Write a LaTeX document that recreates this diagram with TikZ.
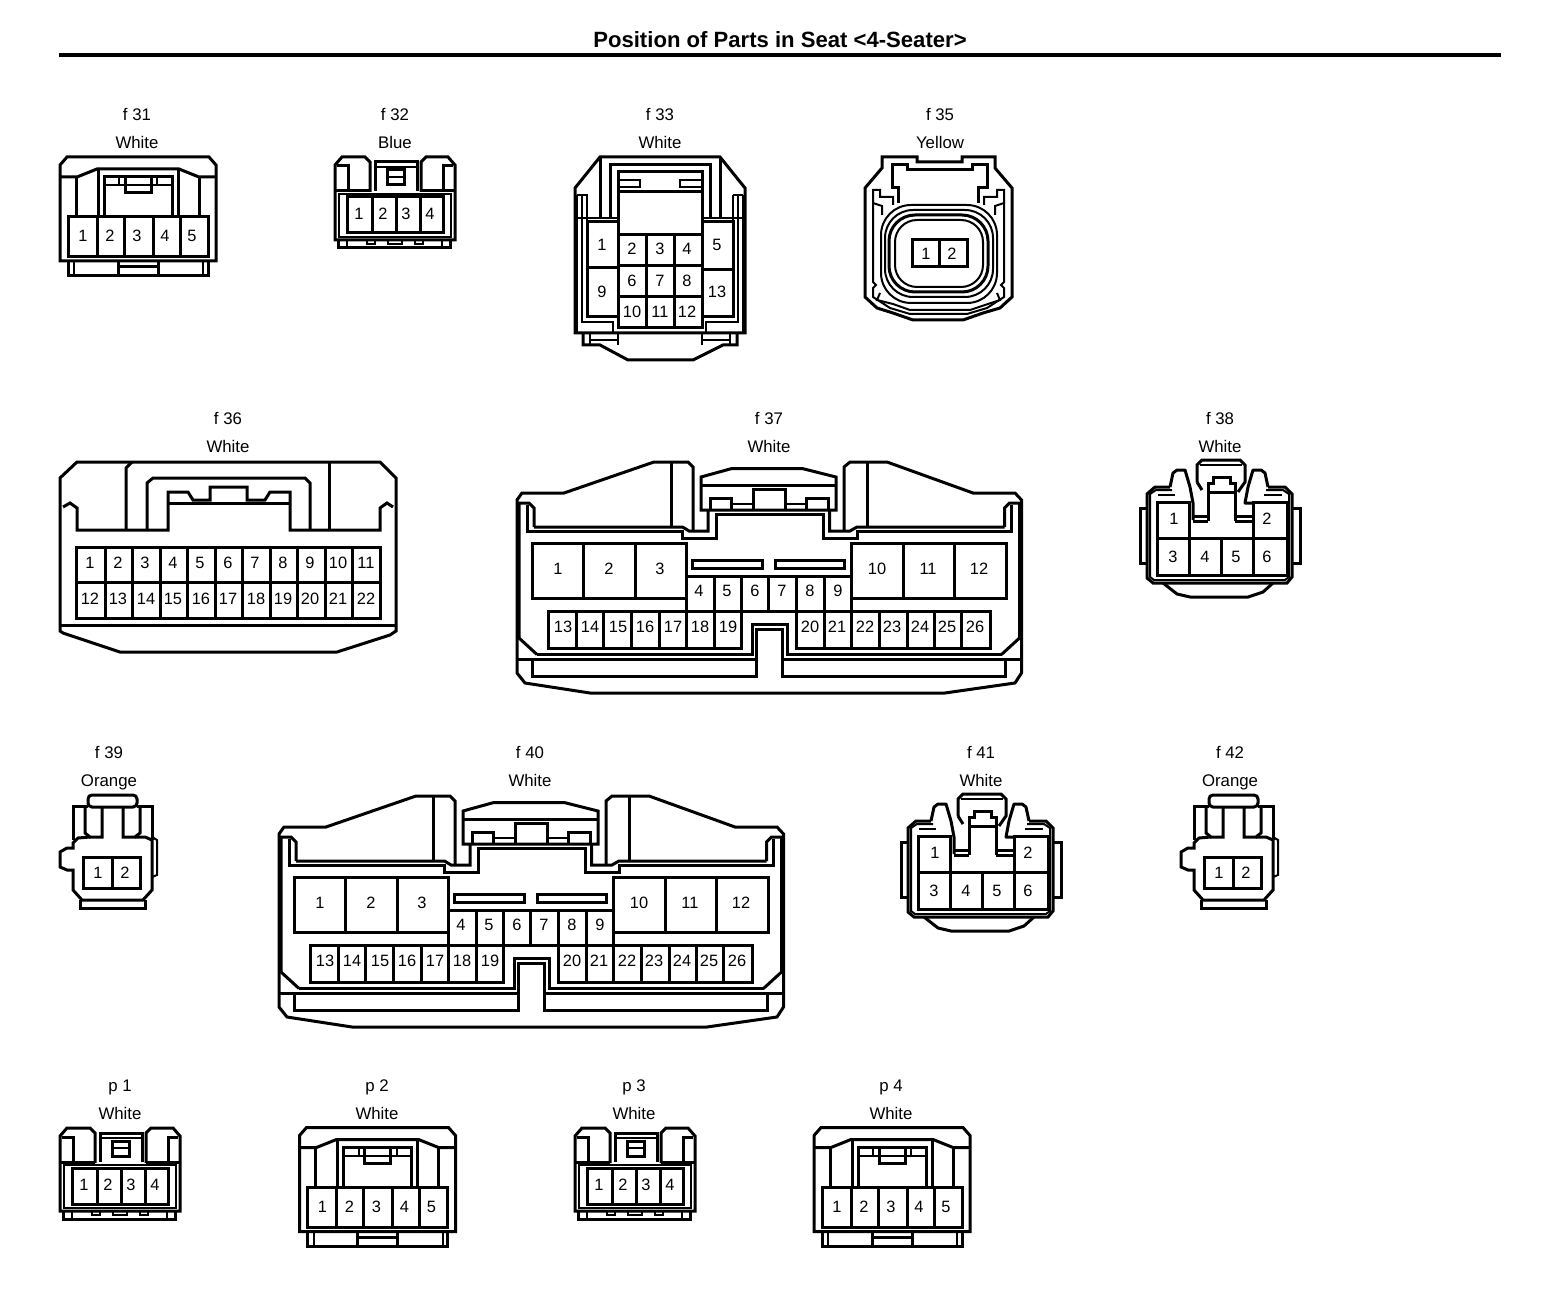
\documentclass[tikz,border=0pt]{standalone}
\usepackage{fontspec}
\setmainfont{Liberation Sans}
\tikzset{
  con/.style={line width=1.5pt},
  fin/.style={line width=1pt},
  pinno/.style={inner sep=0pt,font=\fontsize{8.2}{10}\selectfont},
  lbl/.style={inner sep=0pt,anchor=base,font=\fontsize{8.4}{10}\selectfont}
}

% five pin housing (f31, p2, p4)
\newcommand{\connFive}{
  \draw[con] (60,165) -- (67,157) -- (209,157) -- (216,165) -- (216,261) -- (60,261) -- cycle;
  \draw[con] (60,177) -- (77,177) -- (97,169) -- (179,169) -- (199,177) -- (216,177);
  \draw[con] (76,177) -- (76,216);
  \draw[con] (199,177) -- (199,216);
  \draw[con] (98,169) -- (98,216);
  \draw[con] (178,169) -- (178,216);
  \draw[con] (104,216) -- (104,177) -- (172,177) -- (172,216);
  \draw[fin] (104,185) -- (172,185);
  \draw[fin] (119,177) -- (119,185);
  \draw[fin] (157,177) -- (157,185);
  \draw[con] (125,177) -- (125,193) -- (151,193) -- (151,177);
  \draw[con] (68,217) rectangle (208,257);
  \foreach \x in {97,124,153,180} \draw[con] (\x,217) -- (\x,257);
  \draw[con] (68,261) -- (68,276) -- (208,276) -- (208,261);
  \draw[fin] (74,261) -- (74,276);
  \draw[fin] (203,261) -- (203,276);
  \draw[con] (118,261) -- (118,276);
  \draw[con] (158,261) -- (158,276);
  \draw[con] (118,267) -- (158,267);
  \foreach \n/\x in {1/83,2/110,3/137,4/165,5/192}
    \node[pinno] (pin\n) at (\x,236) {\n};
}

% four pin housing (f32, p1, p3)
\newcommand{\connFour}{
  \draw[con] (370,192) -- (370,162) -- (365,157) -- (342,157) -- (335,165) -- (335,240) -- (455,240) -- (455,165) -- (448,157) -- (426,157) -- (421,162) -- (421,192);
  \draw[con] (348,190) -- (348,166) -- (337,166);
  \draw[con] (443,190) -- (443,166) -- (453,166);
  \draw[con] (370,191) -- (335,191);
  \draw[con] (421,191) -- (455,191);
  \draw[con] (375,191) -- (375,162) -- (417,162) -- (417,191);
  \draw[fin] (375,167) -- (417,167);
  \draw[con] (387,170) rectangle (404,185);
  \draw[fin] (387,177) -- (404,177);
  \draw[fin] (339,194) rectangle (451,237);
  \draw[con] (347,197) rectangle (443,233);
  \foreach \x in {372,396,420} \draw[con] (\x,197) -- (\x,233);
  \draw[con] (338,240) -- (338,248) -- (450,248) -- (450,240);
  \draw[fin] (347,240) -- (347,248);
  \draw[fin] (442,240) -- (442,248);
  \draw[fin] (367,240) rectangle (375,244);
  \draw[fin] (388,240) rectangle (402,244);
  \draw[fin] (415,240) rectangle (423,244);
  \foreach \n/\x in {1/359,2/383,3/406,4/430}
    \node[pinno] (pin\n) at (\x,214) {\n};
}

% two pin housing (f39, f42)
\newcommand{\connTwo}{
  \draw[con,rounded corners=2pt] (88,795) rectangle (137,807);
  \draw[con] (73,840) -- (73,806) -- (88,806);
  \draw[con] (85,807) -- (85,833) -- (90,837) -- (102,837) -- (102,807);
  \draw[con] (123,807) -- (123,837) -- (135,837) -- (140,833) -- (140,807);
  \draw[con] (137,806) -- (152,806) -- (152,840);
  \draw[con] (90,837) -- (78,838) -- (73,843) -- (73,848) -- (67,848) -- (60,852) -- (60,867) -- (67,870) -- (73,870) -- (73,890) -- (82,900) -- (143,900) -- (152,890) -- (152,840) -- (145,837) -- (135,837);
  \draw[fin] (152,837) -- (157,840) -- (157,875) -- (152,877);
  \draw[con] (80,900) -- (80,908) -- (145,908) -- (145,900);
  \draw[con] (83,857) rectangle (140,888);
  \draw[con] (112,857) -- (112,888);
  \node[pinno] (pin1) at (98,873) {1};
  \node[pinno] (pin2) at (125,873) {2};
}

% six pin housing (f38, f41)
\newcommand{\connSix}{
  \draw[con] (1170,487) -- (1155,487) -- (1147,494) -- (1147,578) -- (1153,583) -- (1287,583) -- (1292,577) -- (1292,494) -- (1285,487) -- (1268,487);
  \draw[con] (1163,583) -- (1177,594) -- (1190,597) -- (1248,597) -- (1263,592) -- (1273,583);
  \draw[con] (1147,508) -- (1140,508) -- (1140,563) -- (1147,563);
  \draw[con] (1292,508) -- (1300,508) -- (1300,563) -- (1292,563);
  \draw[fin] (1150,494) -- (1156,490) -- (1172,490);
  \draw[fin] (1150,494) -- (1150,577) -- (1154,580) -- (1285,580) -- (1289,577) -- (1289,494) -- (1283,490) -- (1266,490);
  \draw[fin] (1158,495) -- (1175,495);
  \draw[fin] (1264,495) -- (1282,495);
  \draw[con,line join=round] (1170,487) -- (1173,473) -- (1177,470) -- (1185,470) -- (1190,487) -- (1193,503) -- (1193,520);
  \draw[con,line join=round] (1268,487) -- (1265,473) -- (1261,470) -- (1253,470) -- (1248,487) -- (1245,503) -- (1252,503);
  \draw[con] (1197,482) -- (1197,465) -- (1202,460) -- (1240,460) -- (1245,465) -- (1245,482) -- (1238,492);
  \draw[con] (1197,482) -- (1202,490);
  \draw[fin] (1200,465) -- (1242,465);
  \draw[con] (1208,492) -- (1208,483) -- (1213,483) -- (1213,477) -- (1230,477) -- (1230,483) -- (1235,483) -- (1235,492);
  \draw[con] (1208,521) -- (1208,492) -- (1235,492) -- (1235,521);
  \draw[con] (1193,516) -- (1208,516);
  \draw[con] (1235,516) -- (1252,516);
  \draw[con] (1193,521) -- (1208,521);
  \draw[con] (1235,521) -- (1252,521);
  \draw[con] (1189,538) -- (1189,502) -- (1157,502) -- (1157,575) -- (1287,575) -- (1287,502) -- (1253,502) -- (1253,538);
  \draw[con] (1157,538) -- (1287,538);
  \foreach \x in {1189,1221,1253} \draw[con] (\x,538) -- (\x,575);
  \foreach \n/\x/\y in {1/1174/519,2/1267/519,3/1173/557,4/1205/557,5/1236/557,6/1267/557}
    \node[pinno] (pin\n) at (\x,\y) {\n};
}

% twenty-six pin housing (f37, f40)
\newcommand{\connBig}{
  \draw[con] (693,531) -- (693,467) -- (688,462) -- (654,462) -- (564,493) -- (522,493) -- (517,500) -- (517,673) -- (525,683) -- (590,693) -- (945,693) -- (1015,683) -- (1021.5,673) -- (1021.5,500) -- (1015,493) -- (973,493) -- (887,462) -- (850,462) -- (844,467) -- (844,531);
  \draw[con] (671,462) -- (671,527);
  \draw[con] (867,462) -- (867,527);
  \draw[con] (527,505) -- (527,531) -- (682.5,531) -- (682.5,538.6) -- (716,538.6) -- (716,514) -- (823,514) -- (823,538.6) -- (857,538.6) -- (857,531) -- (1011.5,531) -- (1011.5,505);
  \draw[con] (534,527) -- (682.5,527) -- (689,531) -- (708,531) -- (708,510);
  \draw[con] (1004.5,527) -- (857,527) -- (850,531) -- (829.5,531) -- (829.5,510);
  \draw[con] (534,527) -- (534,508) -- (529,503) -- (519,503) -- (519,638) -- (537,654.5);
  \draw[con] (1004.5,527) -- (1004.5,508) -- (1009.5,503) -- (1019.5,503) -- (1019.5,638) -- (1001.5,654.5);
  \draw[con] (701,510) -- (701,477) -- (731.5,468.6) -- (802.5,468.6) -- (836,477) -- (836,510) -- cycle;
  \draw[con] (701,485) -- (836,485);
  \draw[con] (710,510) -- (710,498) -- (731.5,498) -- (731.5,510);
  \draw[con] (806,510) -- (806,498) -- (828,498) -- (828,510);
  \draw[con] (753.5,509) -- (753.5,489) -- (785,489) -- (785,509);
  \draw[fin] (731.5,504) -- (753.5,504);
  \draw[fin] (785,504) -- (806,504);
  \draw[con] (532,543.6) rectangle (686,598);
  \foreach \x in {583.4,635} \draw[con] (\x,543.6) -- (\x,598);
  \draw[con] (851.5,543.6) rectangle (1006,598);
  \foreach \x in {903,954} \draw[con] (\x,543.6) -- (\x,598);
  \draw[con] (686,576) rectangle (851.5,611);
  \foreach \x in {714,741.6,768.7,796.4,824.5} \draw[con] (\x,576) -- (\x,611);
  \draw[con] (548,611) rectangle (741.6,648);
  \foreach \x in {576,603.7,631.8,659.5,686,714} \draw[con] (\x,611) -- (\x,648);
  \draw[con] (796.4,611) rectangle (990,648);
  \foreach \x in {824.5,851.5,879.6,907,934,961.4} \draw[con] (\x,611) -- (\x,648);
  \draw[con] (692.6,560) rectangle (762,568);
  \draw[con] (775.5,560) rectangle (844,568);
  \draw[con] (537,654.5) -- (752,654.5) -- (752,624) -- (787,624) -- (787,654.5) -- (1001.5,654.5);
  \draw[con] (517,659.6) -- (756,659.6);
  \draw[con] (782,659.6) -- (1021.5,659.6);
  \draw[con] (532,659.6) -- (532,676.5) -- (756,676.5) -- (756,629) -- (782,629) -- (782,676.5) -- (1005,676.5) -- (1005,659.6);
  \foreach \n/\x/\y in {1/558/569,2/609/569,3/660/569,10/877/569,11/928/569,12/979/569,
    4/699/591,5/727/591,6/755/591,7/782/591,8/810/591,9/838/591,
    13/563/627,14/590/627,15/618/627,16/645/627,17/673/627,18/700/627,19/728/627,
    20/810/627,21/837/627,22/865/627,23/892/627,24/920/627,25/947/627,26/975/627}
    \node[pinno] (pin\n) at (\x,\y) {\n};
}

\begin{document}
\begin{tikzpicture}[x=0.5pt,y=-0.5pt]
  \useasboundingbox (0,0) rectangle (1568,1310);

  %%%%% TITLE %%%%%
  \node[inner sep=0pt,font=\fontsize{11.05}{13}\selectfont\bfseries] (title) at (780,40) {Position of Parts in Seat <4-Seater>};
  \draw[line width=2pt] (59,55) -- (1501,55);

  %%%%% LABELS %%%%%
  \foreach \id/\name/\col/\x/\y in {a/f 31/White/137/121,b/f 32/Blue/395/121,c/f 33/White/660/121,d/f 35/Yellow/940/121,
    e/f 36/White/228/424,f/f 37/White/769/424,g/f 38/White/1220/424,
    h/f 39/Orange/109/758,i/f 40/White/530/758,j/f 41/White/981/758,k/f 42/Orange/1230/758,
    l/p 1/White/120/1091,m/p 2/White/377/1091,n/p 3/White/634/1091,o/p 4/White/891/1091} {
    \node[lbl] (name\id) at (\x,\y) {\name};
    \node[lbl] (col\id) at (\x,\y+28) {\col};
  }

  %%%%% ROW 1 %%%%%
  \begin{scope}[name prefix=fa-] \connFive \end{scope}
  \begin{scope}[name prefix=fb-] \connFour \end{scope}

  % f33
  \draw[con] (575,188) -- (600,157) -- (720,157) -- (745,188) -- (745,333) -- (575,333) -- cycle;
  \draw[con] (583,333) -- (583,345) -- (600,345) -- (628,360) -- (693,360) -- (723,345) -- (737,345) -- (737,333);
  \draw[con] (600,157) -- (600,218);
  \draw[con] (720,157) -- (720,218);
  \draw[con] (610,218) -- (610,165) -- (710,165) -- (710,218);
  \draw[con] (618,235) -- (618,172) -- (702,172) -- (702,235);
  \draw[fin] (618,180) -- (640,180) -- (640,187) -- (618,187);
  \draw[fin] (702,180) -- (680,180) -- (680,187) -- (702,187);
  \draw[con] (618,192) -- (702,192);
  \draw[fin] (577,195) -- (587,195) -- (587,222);
  \draw[fin] (582,195) -- (582,322) -- (613,322) -- (613,333);
  \draw[fin] (733,195) -- (743,195);
  \draw[fin] (733,195) -- (733,222);
  \draw[fin] (738,195) -- (738,322) -- (706,322) -- (706,333);
  \draw[fin] (577,195) -- (577,333);
  \draw[fin] (743,195) -- (743,333);
  \draw[fin] (575,218) -- (618,218);
  \draw[fin] (702,218) -- (745,218);
  \draw[con] (587,222) rectangle (618,317);
  \draw[con] (587,268) -- (618,268);
  \draw[con] (702,222) rectangle (733,317);
  \draw[con] (702,270) -- (733,270);
  \draw[con] (618,235) rectangle (702,328);
  \foreach \x in {646,674} \draw[con] (\x,235) -- (\x,328);
  \foreach \y in {266,297} \draw[con] (618,\y) -- (702,\y);
  \draw[fin] (618,333) -- (618,345);
  \draw[fin] (702,333) -- (702,345);
  \draw[fin] (590,333) -- (590,345);
  \draw[fin] (730,333) -- (730,345);
  \draw[fin] (590,340) -- (618,340);
  \draw[fin] (702,340) -- (730,340);
  \foreach \n/\x/\y in {1/602/245,9/602/292,5/717/245,13/717/292,2/632/249,3/660/249,4/687/249,
    6/632/281,7/660/281,8/687/281,10/632/312,11/660/312,12/687/312}
    \node[pinno] (fc\n) at (\x,\y) {\n};

  % f35
  \draw[con] (882,157) -- (917,157) -- (917,162) -- (962,162) -- (962,157) -- (995,157) -- (995,168) -- (1012,188) -- (1012,297) -- (1000,308) -- (983,313) -- (963,320) -- (913,320) -- (893,313) -- (877,308) -- (865,297) -- (865,188) -- (882,168) -- cycle;
  \draw[con] (898,203) -- (898,188) -- (892,188) -- (892,165) -- (907,165) -- (907,170) -- (972,170) -- (972,165) -- (987,165) -- (987,188) -- (978,188) -- (978,203);
  \draw[fin] (893,205) -- (893,197) -- (880,197) -- (880,190) -- (873,190) -- (873,203) -- (882,206) -- (882,215);
  \draw[fin] (984,205) -- (984,197) -- (997,197) -- (997,190) -- (1004,190) -- (1004,203) -- (995,206) -- (995,215);
  \draw[fin] (873,203) -- (873,282) -- (876,285) -- (873,288) -- (873,297) -- (890,308) -- (910,314) -- (967,314) -- (987,308) -- (1004,297) -- (1004,288) -- (1001,285) -- (1004,282) -- (1004,203);
  \draw[fin] (880,293) -- (877,300) -- (893,304) -- (910,310) -- (970,310) -- (1000,300) -- (997,293);
  \draw[fin,rounded corners=15pt] (881,205) rectangle (997,303);
  \draw[fin,rounded corners=14pt] (885,210) rectangle (993,297);
  \draw[con,rounded corners=13pt] (889,215) rectangle (988,292);
  \draw[fin,rounded corners=11pt] (895,220) rectangle (983,287);
  \draw[con] (912,240) rectangle (967,267);
  \draw[con] (939,240) -- (939,267);
  \node[pinno] (fd1) at (926,254) {1};
  \node[pinno] (fd2) at (952,254) {2};

  %%%%% ROW 2 %%%%%
  % f36
  \draw[con] (60,478) -- (77,462) -- (380,462) -- (396,478) -- (396,631) -- (390,635) -- (337,652) -- (120,652) -- (63,633) -- (60,631) -- cycle;
  \draw[con] (60,625) -- (396,625);
  \draw[con] (126,530) -- (126,468) -- (132,462);
  \draw[con] (329,530) -- (329,462);
  \draw[con] (147,530) -- (147,483) -- (153,478) -- (305,478) -- (310,483) -- (310,530);
  \draw[con] (63,507) -- (70,503) -- (77,508) -- (77,530) -- (168,530) -- (168,492) -- (188,492) -- (193,500) -- (210,500) -- (210,487) -- (247,487) -- (247,500) -- (265,500) -- (270,492) -- (290,492) -- (290,530) -- (380,530) -- (380,508) -- (387,503) -- (393,507);
  \draw[con] (168,503) -- (290,503);
  \draw[con] (76,547) rectangle (380,618);
  \draw[con] (76,582) -- (380,582);
  \foreach \x in {105,132,160,187,215,242,270,297,325,352} \draw[con] (\x,547) -- (\x,618);
  \foreach \n/\x in {1/90,2/118,3/145,4/173,5/200,6/228,7/255,8/283,9/310,10/338,11/366}
    \node[pinno] (fe\n) at (\x,563) {\n};
  \foreach \n/\x in {12/90,13/118,14/146,15/173,16/201,17/228,18/256,19/283,20/310,21/338,22/366}
    \node[pinno] (fe\n) at (\x,599) {\n};

  \begin{scope}[name prefix=ff-] \connBig \end{scope}
  \begin{scope}[name prefix=fg-] \connSix \end{scope}

  %%%%% ROW 3 %%%%%
  \begin{scope}[name prefix=fh-] \connTwo \end{scope}
  \begin{scope}[shift={(-238,334)},name prefix=fi-] \connBig \end{scope}
  \begin{scope}[shift={(-239,334)},name prefix=fj-] \connSix \end{scope}
  \begin{scope}[shift={(1121,0)},name prefix=fk-] \connTwo \end{scope}

  %%%%% ROW 4 %%%%%
  \begin{scope}[shift={(-275,971)},name prefix=pa-] \connFour \end{scope}
  \begin{scope}[shift={(239.5,970.5)},name prefix=pb-] \connFive \end{scope}
  \begin{scope}[shift={(240,971)},name prefix=pc-] \connFour \end{scope}
  \begin{scope}[shift={(754,970.5)},name prefix=pd-] \connFive \end{scope}
\end{tikzpicture}
\end{document}
